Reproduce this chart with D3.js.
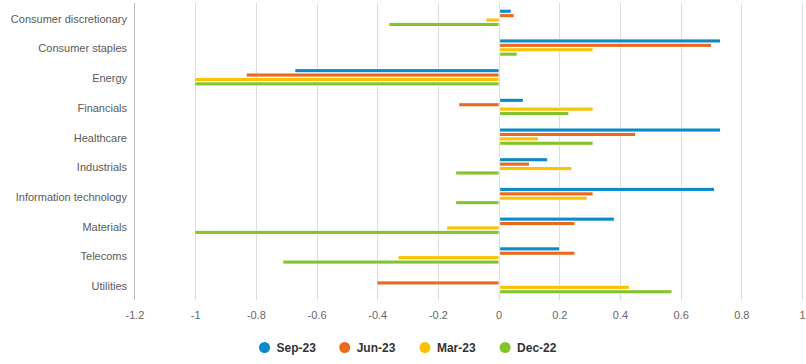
<!DOCTYPE html>
<html><head><meta charset="utf-8">
<script src="https://cdn.jsdelivr.net/npm/d3@7"></script>
<style>
body{margin:0;background:#fff;}
svg{display:block;}
</style></head>
<body><svg id="c" width="806" height="364"></svg>
<script>
const categories = ["Consumer discretionary","Consumer staples","Energy","Financials","Healthcare","Industrials","Information technology","Materials","Telecoms","Utilities"];
const seriesNames = ["Sep-23","Jun-23","Mar-23","Dec-22"];
const sep23 = [0.04, 0.73, -0.67, 0.08, 0.73, 0.16, 0.71, 0.38, 0.20, null];
const jun23 = [0.05, 0.70, -0.83, -0.13, 0.45, 0.10, 0.31, 0.25, 0.25, -0.40];
const mar23 = [-0.04, 0.31, -1.00, 0.31, 0.13, 0.24, 0.29, -0.17, -0.33, 0.43];
const dec22 = [-0.36, 0.06, -1.00, 0.23, 0.31, -0.14, -0.14, -1.00, -0.71, 0.57];
const tickValues = [-1.2,-1,-0.8,-0.6,-0.4,-0.2,0,0.2,0.4,0.6,0.8,1];
const tickLabels = ["-1.2","-1","-0.8","-0.6","-0.4","-0.2","0","0.2","0.4","0.6","0.8","1"];
const colors = ["#0a8ac9","#e9691e","#fcc200","#84c42b"];

(function(){
const seriesValues = [sep23, jun23, mar23, dec22];
const svg = d3.select("#c");
const pl = 134.5, pr = 802, pt = 3, pb = 300;

const x = d3.scaleLinear().domain([-1.2, 1]).range([pl, pr]);
const y0 = d3.scaleBand().domain(categories).range([pt, pb]).paddingInner(0.45).paddingOuter(0.225);
const y1 = d3.scaleBand().domain(seriesNames).range([0, y0.bandwidth()]).paddingInner(0.3);

const grid = svg.append("g");
grid.selectAll("line").data(tickValues.slice(1)).join("line")
  .attr("x1", d => Math.round(x(d)) + 0.5).attr("x2", d => Math.round(x(d)) + 0.5)
  .attr("y1", pt).attr("y2", pb)
  .attr("stroke", "#dcdcdc").attr("stroke-width", 1);

svg.append("line").attr("x1", pl).attr("x2", pl).attr("y1", pt).attr("y2", pb)
  .attr("stroke", "#b4b8c0").attr("stroke-width", 1);

const rows = [];
categories.forEach((c, i) => {
  seriesNames.forEach((s, j) => {
    const v = seriesValues[j][i];
    if (v !== null && v !== 0) rows.push({c, s, v, j});
  });
});
svg.append("g").selectAll("rect").data(rows).join("rect")
  .attr("x", d => d.v >= 0 ? x(0) + 1.5 : x(d.v))
  .attr("width", d => d.v >= 0 ? x(d.v) - x(0) - 1.5 : x(0) - x(d.v))
  .attr("y", d => y0(d.c) + y1(d.s))
  .attr("height", y1.bandwidth())
  .attr("fill", d => colors[d.j])
  .attr("stroke", "#fff").attr("stroke-width", 1).attr("paint-order", "stroke");

svg.append("g").selectAll("text").data(categories).join("text")
  .attr("x", 127).attr("y", d => y0(d) + y0.bandwidth() / 2 + 1)
  .attr("dy", "0.35em").attr("text-anchor", "end")
  .attr("font-family", "Liberation Sans, Arial, sans-serif").attr("font-size", 11)
  .attr("fill", "#595959").text(d => d);

const xAxis = d3.axisBottom(x).tickValues(tickValues).tickFormat((d, i) => tickLabels[i]).tickSize(0).tickPadding(0);
const ax = svg.append("g").attr("transform", `translate(0,${pb})`).call(xAxis);
ax.select(".domain").remove();
ax.selectAll("text").attr("y", 0).attr("dy", "19px")
  .attr("font-family", "Liberation Sans, Arial, sans-serif").attr("font-size", 11)
  .attr("fill", "#666");

const lg = svg.append("g").selectAll("g").data(seriesNames).join("g")
  .attr("transform", (d, i) => `translate(${264.5 + i * 80.2},347.5)`);
lg.append("circle").attr("r", 5.5).attr("fill", (d, i) => colors[i]);
lg.append("text").attr("x", 12).attr("dy", "0.36em")
  .attr("font-family", "Liberation Sans, Arial, sans-serif").attr("font-size", 12)
  .attr("font-weight", "bold").attr("fill", "#333").text(d => d);
})();
</script></body></html>
